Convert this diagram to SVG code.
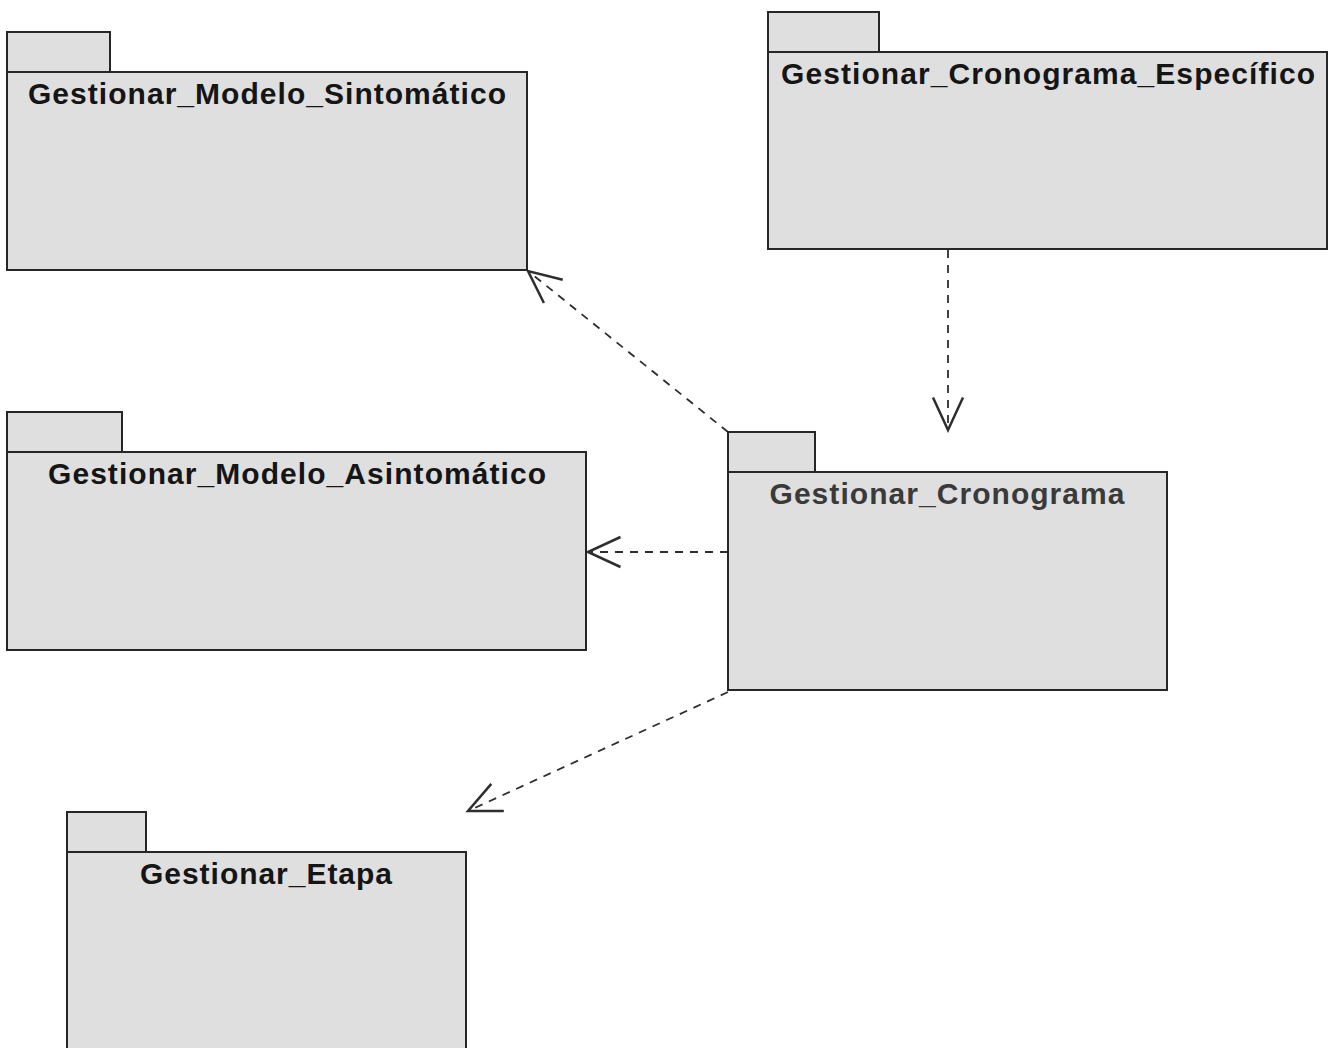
<svg xmlns="http://www.w3.org/2000/svg" width="1335" height="1048" viewBox="0 0 1335 1048">
  <style>
    .pkg rect { fill: #dfdfdf; stroke: #262626; stroke-width: 2; }
    .name { font-family: "Liberation Sans", Arial, sans-serif; font-size: 30px; font-weight: bold; fill: #151515; text-anchor: middle; }
    .dep { fill: none; stroke: #2e2e2e; stroke-width: 1.8; stroke-dasharray: 8 7; marker-end: url(#open); }
  </style>
  <defs>
    <!-- open "V" arrowhead for dependency arrows -->
    <marker id="open" markerUnits="userSpaceOnUse" markerWidth="40" markerHeight="40" refX="0" refY="0" viewBox="-30 -16 32 32" orient="auto" overflow="visible">
      <path d="M -26 -12 L 0 0 L -26 12" fill="none" stroke="#2e2e2e" stroke-width="2"/>
    </marker>
  </defs>
  <rect width="1335" height="1048" fill="#ffffff"/>

  <!-- dependencies -->
  <g id="connectors">
    <line class="dep" x1="728" y1="432" x2="528" y2="271"/>
    <line class="dep" x1="948" y1="250" x2="948" y2="430"/>
    <line class="dep" x1="728" y1="552" x2="588" y2="552"/>
    <line class="dep" x1="728" y1="692" x2="468" y2="811"/>
  </g>

  <g id="pkg-sintomatico" class="pkg">
    <rect x="7" y="32" width="103" height="40"/>
    <rect x="7" y="72" width="520" height="198"/>
    <text class="name" x="267" y="104" textLength="478" lengthAdjust="spacing">Gestionar_Modelo_Sintomático</text>
  </g>

  <g id="pkg-cronograma-especifico" class="pkg">
    <rect x="768" y="12" width="111" height="40"/>
    <rect x="768" y="52" width="559" height="197"/>
    <text class="name" x="1048" y="84" textLength="534" lengthAdjust="spacing">Gestionar_Cronograma_Específico</text>
  </g>

  <g id="pkg-asintomatico" class="pkg">
    <rect x="7" y="412" width="115" height="40"/>
    <rect x="7" y="452" width="579" height="198"/>
    <text class="name" x="297" y="484" textLength="498" lengthAdjust="spacing">Gestionar_Modelo_Asintomático</text>
  </g>

  <g id="pkg-cronograma" class="pkg">
    <rect x="728" y="432" width="87" height="40"/>
    <rect x="728" y="472" width="439" height="218"/>
    <text class="name" x="947" y="504" textLength="355" lengthAdjust="spacing" style="fill:#3a3a3a">Gestionar_Cronograma</text>
  </g>

  <g id="pkg-etapa" class="pkg">
    <rect x="67" y="812" width="79" height="40"/>
    <rect x="67" y="852" width="399" height="210"/>
    <text class="name" x="266" y="884" textLength="252" lengthAdjust="spacing">Gestionar_Etapa</text>
  </g>
</svg>
